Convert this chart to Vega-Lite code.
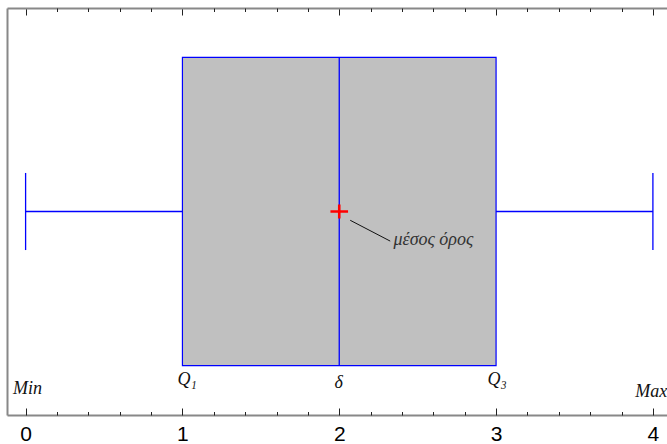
{
  "$schema": "https://vega.github.io/schema/vega-lite/v6.json",
  "width": 660,
  "height": 407,
  "autosize": {"type": "none"},
  "padding": {"left": 7, "top": 8, "right": 0, "bottom": 29},
  "background": "white",
  "config": {"view": {"stroke": null}},
  "data": {"values": [{"min": 0, "q1": 1, "median": 2, "q3": 3, "max": 4, "mean": 2}]},
  "resolve": {"axis": {"x": "independent"}},
  "layer": [
    {
      "mark": {"type": "rect", "fill": "#c0c0c0", "stroke": "#0000ff", "strokeWidth": 1.2},
      "encoding": {
        "x": {"field": "q1", "type": "quantitative",
              "scale": {"domain": [-0.1186, 4.0899], "nice": false, "zero": false},
              "axis": {"orient": "bottom", "values": [0, 1, 2, 3, 4], "ticks": false, "domain": true,
                       "domainColor": "#888888", "domainWidth": 2, "grid": false, "title": null,
                       "labelFont": "Liberation Sans", "labelFontSize": 21, "labelColor": "#000000",
                       "labelPadding": 8, "labelFlush": false}},
        "x2": {"field": "q3"},
        "y": {"datum": -1, "type": "quantitative",
              "scale": {"domain": [-1.32, 1.32], "nice": false, "zero": false},
              "axis": {"domain": true, "domainColor": "#888888", "domainWidth": 2, "ticks": false,
                       "labels": false, "grid": false, "title": null}},
        "y2": {"datum": 1}
      }
    },
    {
      "mark": {"type": "rule", "color": "#0000ff", "strokeWidth": 1.3},
      "encoding": {
        "x": {"field": "median", "type": "quantitative",
              "axis": {"orient": "bottom", "values": [0, 1, 2, 3, 4], "labels": false, "domain": false,
                       "grid": false, "title": null, "tickSize": -7, "tickColor": "#222222", "tickWidth": 1}},
        "y": {"datum": -1, "type": "quantitative",
              "axis": {"domain": true, "domainColor": "#888888", "domainWidth": 2, "ticks": false,
                       "labels": false, "grid": false, "title": null}},
        "y2": {"datum": 1}
      }
    },
    {
      "mark": {"type": "rule", "stroke": "#0000ff", "strokeWidth": 1.5},
      "encoding": {
        "x": {"field": "min", "type": "quantitative",
              "axis": {"orient": "bottom",
                       "values": [0.2, 0.4, 0.6, 0.8, 1.2, 1.4, 1.6, 1.8, 2.2, 2.4, 2.6, 2.8, 3.2, 3.4, 3.6, 3.8],
                       "labels": false, "domain": false, "grid": false, "title": null,
                       "tickSize": -3.5, "tickColor": "#222222", "tickWidth": 1}},
        "x2": {"field": "q1"},
        "y": {"datum": 0, "type": "quantitative",
              "axis": {"domain": true, "domainColor": "#888888", "domainWidth": 2, "ticks": false,
                       "labels": false, "grid": false, "title": null}}
      }
    },
    {
      "mark": {"type": "rule", "stroke": "#0000ff", "strokeWidth": 1.5},
      "encoding": {
        "x": {"field": "q3", "type": "quantitative",
              "axis": {"orient": "top", "values": [0, 1, 2, 3, 4], "labels": false, "domain": true,
                       "domainColor": "#888888", "domainWidth": 2, "grid": false, "title": null,
                       "tickSize": -7, "tickColor": "#222222", "tickWidth": 1}},
        "x2": {"field": "max"},
        "y": {"datum": 0, "type": "quantitative",
              "axis": {"domain": true, "domainColor": "#888888", "domainWidth": 2, "ticks": false,
                       "labels": false, "grid": false, "title": null}}
      }
    },
    {
      "mark": {"type": "rule", "color": "#0000ff", "strokeWidth": 1.3},
      "encoding": {
        "x": {"field": "min", "type": "quantitative",
              "axis": {"orient": "top",
                       "values": [0.2, 0.4, 0.6, 0.8, 1.2, 1.4, 1.6, 1.8, 2.2, 2.4, 2.6, 2.8, 3.2, 3.4, 3.6, 3.8],
                       "labels": false, "domain": false, "grid": false, "title": null,
                       "tickSize": -3.5, "tickColor": "#222222", "tickWidth": 1}},
        "y": {"datum": -0.25, "type": "quantitative",
              "axis": {"domain": true, "domainColor": "#888888", "domainWidth": 2, "ticks": false,
                       "labels": false, "grid": false, "title": null}},
        "y2": {"datum": 0.25}
      }
    },
    {
      "mark": {"type": "rule", "color": "#0000ff", "strokeWidth": 1.3},
      "encoding": {
        "x": {"field": "max", "type": "quantitative", "axis": null},
        "y": {"datum": -0.25, "type": "quantitative",
              "axis": {"domain": true, "domainColor": "#888888", "domainWidth": 2, "ticks": false,
                       "labels": false, "grid": false, "title": null}},
        "y2": {"datum": 0.25}
      }
    },
    {
      "data": {"values": [{"x": 2.07, "y": -0.057, "x2": 2.325, "y2": -0.192}]},
      "mark": {"type": "rule", "color": "#111111", "strokeWidth": 1},
      "encoding": {
        "x": {"field": "x", "type": "quantitative", "axis": null},
        "x2": {"field": "x2"},
        "y": {"field": "y", "type": "quantitative",
              "axis": {"domain": true, "domainColor": "#888888", "domainWidth": 2, "ticks": false,
                       "labels": false, "grid": false, "title": null}},
        "y2": {"field": "y2"}
      }
    },
    {
      "mark": {"type": "point", "shape": "M-1,0H1M0,-0.8V0.8", "filled": false,
               "stroke": "#ff0000", "strokeWidth": 2.6, "size": 310, "opacity": 1},
      "encoding": {
        "x": {"field": "mean", "type": "quantitative", "axis": null},
        "y": {"datum": 0, "type": "quantitative",
              "axis": {"domain": true, "domainColor": "#888888", "domainWidth": 2, "ticks": false,
                       "labels": false, "grid": false, "title": null}}
      }
    },
    {
      "data": {"values": [
        {"label": "Min", "x": -0.08, "y": -1.181, "align": "left"},
        {"label": "Q₁", "x": 0.969, "y": -1.126, "align": "left"},
        {"label": "δ", "x": 1.996, "y": -1.146, "align": "center"},
        {"label": "Q₃", "x": 2.946, "y": -1.126, "align": "left"},
        {"label": "Max", "x": 3.887, "y": -1.201, "align": "left"}
      ]},
      "mark": {"type": "text", "font": "Liberation Serif", "fontStyle": "italic", "fontSize": 18,
               "baseline": "alphabetic", "align": {"expr": "datum.align"}, "color": "#111111"},
      "encoding": {
        "x": {"field": "x", "type": "quantitative", "axis": null},
        "y": {"field": "y", "type": "quantitative",
              "axis": {"domain": true, "domainColor": "#888888", "domainWidth": 2, "ticks": false,
                       "labels": false, "grid": false, "title": null}},
        "text": {"field": "label"}
      }
    },
    {
      "data": {"values": [{"label": "μέσος όρος", "x": 2.346, "y": -0.22}]},
      "mark": {"type": "text", "font": "Liberation Serif", "fontStyle": "italic", "fontSize": 18,
               "baseline": "alphabetic", "align": "left", "color": "#333333"},
      "encoding": {
        "x": {"field": "x", "type": "quantitative", "axis": null},
        "y": {"field": "y", "type": "quantitative",
              "axis": {"domain": true, "domainColor": "#888888", "domainWidth": 2, "ticks": false,
                       "labels": false, "grid": false, "title": null}},
        "text": {"field": "label"}
      }
    }
  ]
}
